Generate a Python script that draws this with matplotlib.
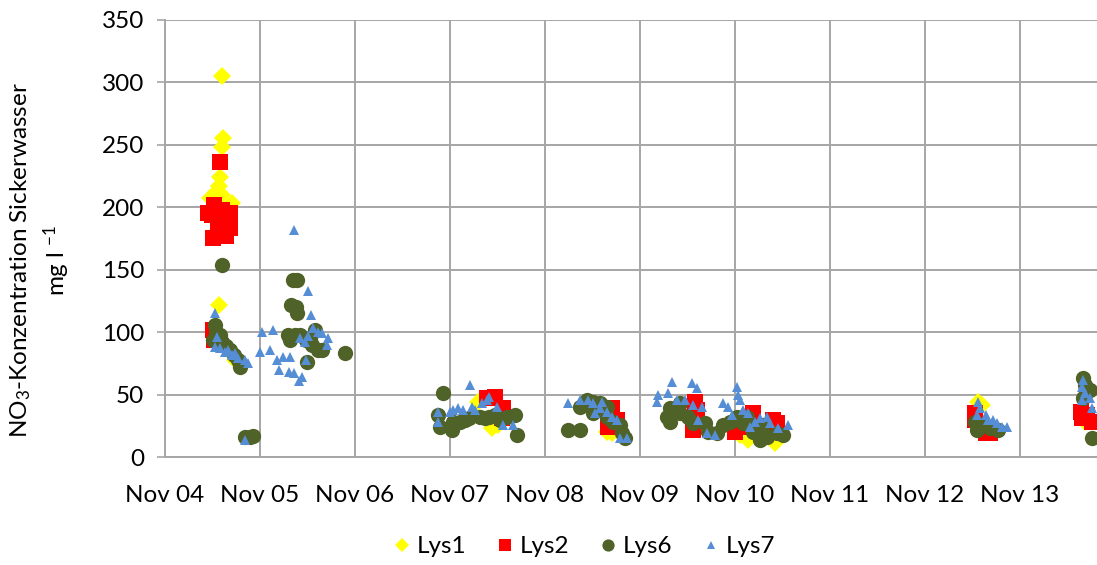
import datetime as dt
import matplotlib
matplotlib.use("Agg")
import matplotlib.pyplot as plt
import matplotlib.dates as mdates

plt.rcParams['font.family'] = ['Lato', 'DejaVu Sans']
plt.rcParams['mathtext.default'] = 'regular'

# sampling dates as decimal years, nitrate in mg/l
lys1_t = [2005.43, 2005.44, 2005.43, 2005.41, 2005.40, 2005.37, 2005.43, 2005.31, 2005.54,
          2005.40, 2005.36, 2005.41, 2005.57,
          2008.28, 2008.13, 2008.34, 2009.49, 2009.54,
          2011.25, 2010.97, 2010.89, 2013.39, 2013.43, 2014.52]
lys1_v = [305, 255, 248, 224, 217, 212, 210, 207, 203,
          122, 102, 94, 78,
          23, 44, 26, 20, 19,
          11, 14, 18, 44, 42, 28]

lys2_t = [2005.41, 2005.35, 2005.43, 2005.52, 2005.33, 2005.48, 2005.39, 2005.52, 2005.43,
          2005.34, 2005.48, 2005.29, 2005.34, 2005.35,
          2008.22, 2008.31, 2008.39, 2008.38,
          2009.54, 2009.59, 2009.50,
          2010.41, 2010.43, 2010.39, 2010.83, 2011.02, 2011.02, 2011.23, 2011.28, 2010.89,
          2013.36, 2013.36, 2013.47, 2013.52,
          2014.47, 2014.49, 2014.59, 2014.54]
lys2_v = [236, 202, 198, 195, 194, 190, 186, 183, 180,
          175, 177, 195, 102, 94,
          47, 48, 39, 31,
          39, 30, 24,
          44, 38, 22, 20, 35, 24, 30, 27, 24,
          35, 30, 19, 19,
          36, 31, 28, 34]

lys6_t = [2005.43, 2005.36, 2005.37, 2005.39, 2005.43, 2005.48, 2005.52, 2005.56, 2005.60,
          2005.62, 2005.34, 2005.41, 2005.68, 2005.73, 2005.76,
          2006.18, 2006.22, 2006.16, 2006.21, 2006.22, 2006.13, 2006.20, 2006.25, 2006.15,
          2006.32, 2006.38, 2006.44, 2006.49, 2006.33, 2006.73, 2006.41, 2006.36,
          2007.76, 2007.71, 2007.73, 2007.85, 2007.94, 2008.04, 2008.15, 2008.25, 2008.36,
          2008.52, 2008.54, 2007.87, 2007.99, 2008.20, 2008.31, 2008.43,
          2009.08, 2009.20, 2009.28, 2009.34, 2009.41, 2009.49, 2009.34, 2009.49, 2009.55,
          2009.62, 2009.64, 2009.68, 2009.20,
          2010.15, 2010.15, 2010.25, 2010.34, 2010.39, 2010.52, 2010.55, 2010.64, 2010.71,
          2010.78, 2010.85, 2010.92, 2010.96, 2011.02, 2011.10, 2011.17, 2011.28, 2011.34,
          2011.07, 2011.13, 2010.25, 2010.12,
          2013.36, 2013.38, 2013.44, 2013.52, 2013.60,
          2014.50, 2014.52, 2014.50, 2014.57, 2014.59]
lys6_v = [154, 106, 100, 95, 92, 89, 86, 82, 78,
          72, 94, 98, 16, 16, 17,
          142, 142, 122, 120, 115, 98, 98, 98, 94,
          94, 90, 86, 86, 76, 83, 102, 95,
          51, 34, 24, 22, 28, 31, 32, 32, 30,
          34, 18, 28, 30, 31, 34, 32,
          22, 22, 46, 44, 43, 40, 35, 32, 28,
          26, 19, 15, 40,
          39, 28, 35, 32, 27, 27, 20, 19, 26,
          28, 32, 27, 32, 20, 14, 16, 19, 18,
          24, 26, 43, 32,
          28, 22, 26, 23, 22,
          63, 58, 47, 54, 15]

lys7_t = [2005.36, 2005.38, 2005.36, 2005.46, 2005.54, 2005.60, 2005.68, 2005.71, 2005.41,
          2005.50, 2005.57, 2005.68,
          2005.85, 2005.97, 2005.83, 2005.94, 2006.19, 2006.34, 2006.37, 2006.01, 2006.08,
          2006.15, 2006.03, 2006.14, 2006.19, 2006.24, 2006.28, 2006.32, 2006.39, 2006.49,
          2006.55, 2006.54, 2006.31, 2006.25, 2006.44, 2006.34,
          2007.71, 2007.71, 2007.83, 2007.92, 2007.97, 2008.07, 2008.10, 2008.17, 2008.22,
          2008.25, 2008.33, 2008.39, 2008.50, 2008.05, 2007.87,
          2009.08, 2009.20, 2009.29, 2009.34, 2009.43, 2009.49, 2009.54, 2009.59, 2009.62,
          2009.70, 2009.41, 2009.36,
          2010.02, 2010.01, 2010.17, 2010.13, 2010.38, 2010.43, 2010.22, 2010.31, 2010.39,
          2010.49, 2010.44, 2010.54, 2010.62, 2010.71, 2010.76, 2010.85, 2010.86, 2010.89,
          2010.92, 2010.97, 2010.80, 2011.04, 2011.10, 2011.17, 2011.20, 2011.29, 2011.39,
          2010.99,
          2013.39, 2013.41, 2013.47, 2013.50, 2013.55, 2013.59, 2013.64, 2013.70, 2013.38,
          2014.50, 2014.49, 2014.52, 2014.57, 2014.49, 2014.59]
lys7_v = [115, 96, 88, 84, 82, 79, 78, 75, 87,
          86, 83, 14,
          100, 102, 84, 86, 182, 133, 114, 78, 80,
          80, 70, 68, 67, 61, 64, 78, 103, 99,
          95, 90, 92, 95, 100, 97,
          36, 28, 36, 39, 38, 40, 38, 43, 46,
          48, 40, 26, 26, 58, 38,
          43, 46, 46, 43, 44, 36, 32, 30, 15,
          15, 39, 35,
          50, 44, 60, 51, 59, 55, 46, 46, 42,
          40, 30, 19, 18, 43, 40, 56, 50, 46,
          38, 35, 34, 28, 31, 32, 27, 23, 26,
          24,
          44, 39, 34, 30, 30, 27, 24, 24, 34,
          62, 56, 51, 47, 46, 39]

year_ticks = list(range(2004, 2014))


def to_date(y):
    yr = int(y)
    return dt.datetime(yr, 1, 1) + dt.timedelta(days=(y - yr) * 365.25)


fig = plt.figure(figsize=(10.97, 5.65), dpi=100)
ax = fig.add_axes([0.1504, 0.191, 0.8496, 0.774])

series = [
    ("Lys1", lys1_t, lys1_v, "D", "#FFFF00", 9.5),
    ("Lys2", lys2_t, lys2_v, "s", "#FF0000", 11.5),
    ("Lys6", lys6_t, lys6_v, "o", "#4F6228", 11),
    ("Lys7", lys7_t, lys7_v, "^", "#558ED5", 7),
]
for name, t, v, m, c, ms in series:
    ax.plot([to_date(x) for x in t], v, linestyle="none", marker=m, color=c,
            markersize=ms, markeredgewidth=0, label=name)

ax.set_ylim(0, 350)
ax.set_yticks(range(0, 351, 50))
ax.set_xlim(dt.datetime(2004, 11, 1), dt.datetime(2014, 8, 24))
ax.set_xticks([dt.datetime(y, 11, 1) for y in year_ticks])
ax.xaxis.set_major_formatter(mdates.DateFormatter("%b %y"))

grid_c = "#A6A6A6"
ax.grid(True, color=grid_c, linewidth=1.4)
ax.set_axisbelow(True)
for s in ax.spines.values():
    s.set_visible(False)
for side in ("left", "bottom"):
    ax.spines[side].set_visible(True)
    ax.spines[side].set_color(grid_c)
    ax.spines[side].set_linewidth(1.4)
ax.tick_params(axis="y", length=6, color=grid_c, width=1.2, labelsize=17.5, pad=9)
ax.tick_params(axis="x", length=0, labelsize=17.5, pad=20)

ax.set_ylabel("NO$_3$-Konzentration Sickerwasser\nmg l $^{-1}$", fontsize=17.5,
              linespacing=1.35)
ax.yaxis.set_label_coords(-0.1, 0.45)

fig.legend(loc="lower center", bbox_to_anchor=(0.53, -0.025), ncol=4, frameon=False,
           fontsize=17.5, handletextpad=0.0, columnspacing=1.0, markerscale=0.8,
           handlelength=1.2)

fig.savefig("out.png", dpi=100)
